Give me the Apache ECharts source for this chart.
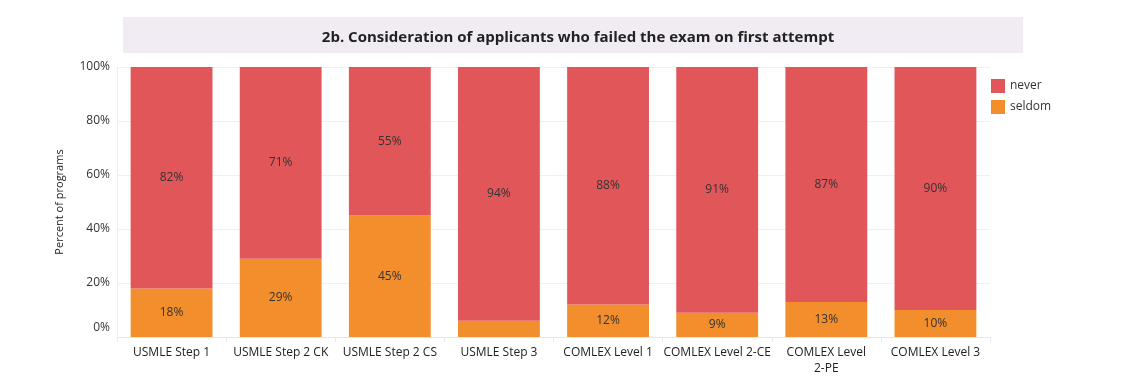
<!DOCTYPE html>
<html>
<head>
<meta charset="utf-8">
<script src="https://cdn.jsdelivr.net/npm/echarts@6/dist/echarts.min.js"></script>
<style>
  html, body { margin: 0; padding: 0; background: #fff; }
  #container { width: 1121px; height: 377px; }
</style>
</head>
<body>
<div id="container"></div>
<script>
// exams on the x axis
const exams = ['USMLE Step 1', 'USMLE Step 2 CK', 'USMLE Step 2 CS', 'USMLE Step 3',
    'COMLEX Level 1', 'COMLEX Level 2-CE', 'COMLEX Level\n2-PE', 'COMLEX Level 3'];
// percent of programs
const never = [82, 71, 55, 94, 88, 91, 87, 90];
const seldom = [18, 29, 45, 6, 12, 9, 13, 10];
const yTicks = [0, 20, 40, 60, 80, 100];

var dom = document.getElementById('container');
var myChart = echarts.init(dom);
var font = '"Open Sans", sans-serif';

var option = {
    animation: false,
    textStyle: { fontFamily: font },
    graphic: [{
        type: 'rect',
        shape: { x: 123, y: 17, width: 900, height: 36 },
        style: { fill: '#f1ebf3' },
        z: 0
    }],
    title: {
        text: '2b. Consideration of applicants who failed the exam on first attempt',
        left: 573,
        textAlign: 'center',
        top: 25,
        textStyle: { fontSize: 15, fontWeight: 'bold', color: '#222', fontFamily: font }
    },
    legend: {
        orient: 'vertical',
        left: 986,
        top: 74,
        itemWidth: 14,
        itemHeight: 14,
        itemGap: 7,
        icon: 'rect',
        textStyle: { fontSize: 12, color: '#333' },
        data: ['never', 'seldom']
    },
    grid: { left: 117, right: 131, top: 67, bottom: 39 },
    xAxis: {
        type: 'category',
        data: exams,
        axisLine: { lineStyle: { color: '#e6e6e6' } },
        axisTick: { show: true, lineStyle: { color: '#eaeaea' } },
        axisLabel: { color: '#222', fontSize: 12, margin: 8, interval: 0, lineHeight: 16 }
    },
    yAxis: {
        type: 'value',
        min: 0,
        max: 100,
        interval: 20,
        name: 'Percent of programs',
        nameLocation: 'middle',
        nameGap: 52,
        nameTextStyle: { color: '#222', fontSize: 11 },
        axisLine: { show: true, lineStyle: { color: '#eeeeee' } },
        axisTick: { show: false },
        splitLine: { lineStyle: { color: '#f0f0f0' } },
        axisLabel: {
            color: '#333',
            fontSize: 12,
            margin: 7,
            formatter: function (v) {
                return yTicks.indexOf(v) >= 0 ? (v === 0 ? '{z|0%}' : v + '%') : '';
            },
            rich: { z: { fontSize: 12, color: '#333', padding: [0, 0, 18, 0] } }
        }
    },
    series: [{
        name: 'seldom',
        type: 'bar',
        stack: 'all',
        barWidth: '75%',
        itemStyle: { color: '#f28e2b' },
        label: {
            show: true,
            position: 'inside',
            color: '#333',
            fontSize: 12,
            formatter: function (p) { return p.value >= 8 ? p.value + '%' : ''; }
        },
        data: seldom
    }, {
        name: 'never',
        type: 'bar',
        stack: 'all',
        barWidth: '75%',
        itemStyle: { color: '#e15759' },
        label: {
            show: true,
            position: 'inside',
            color: '#333',
            fontSize: 12,
            formatter: '{c}%'
        },
        data: never
    }]
};

myChart.setOption(option);
window.addEventListener('resize', myChart.resize);
</script>
</body>
</html>
